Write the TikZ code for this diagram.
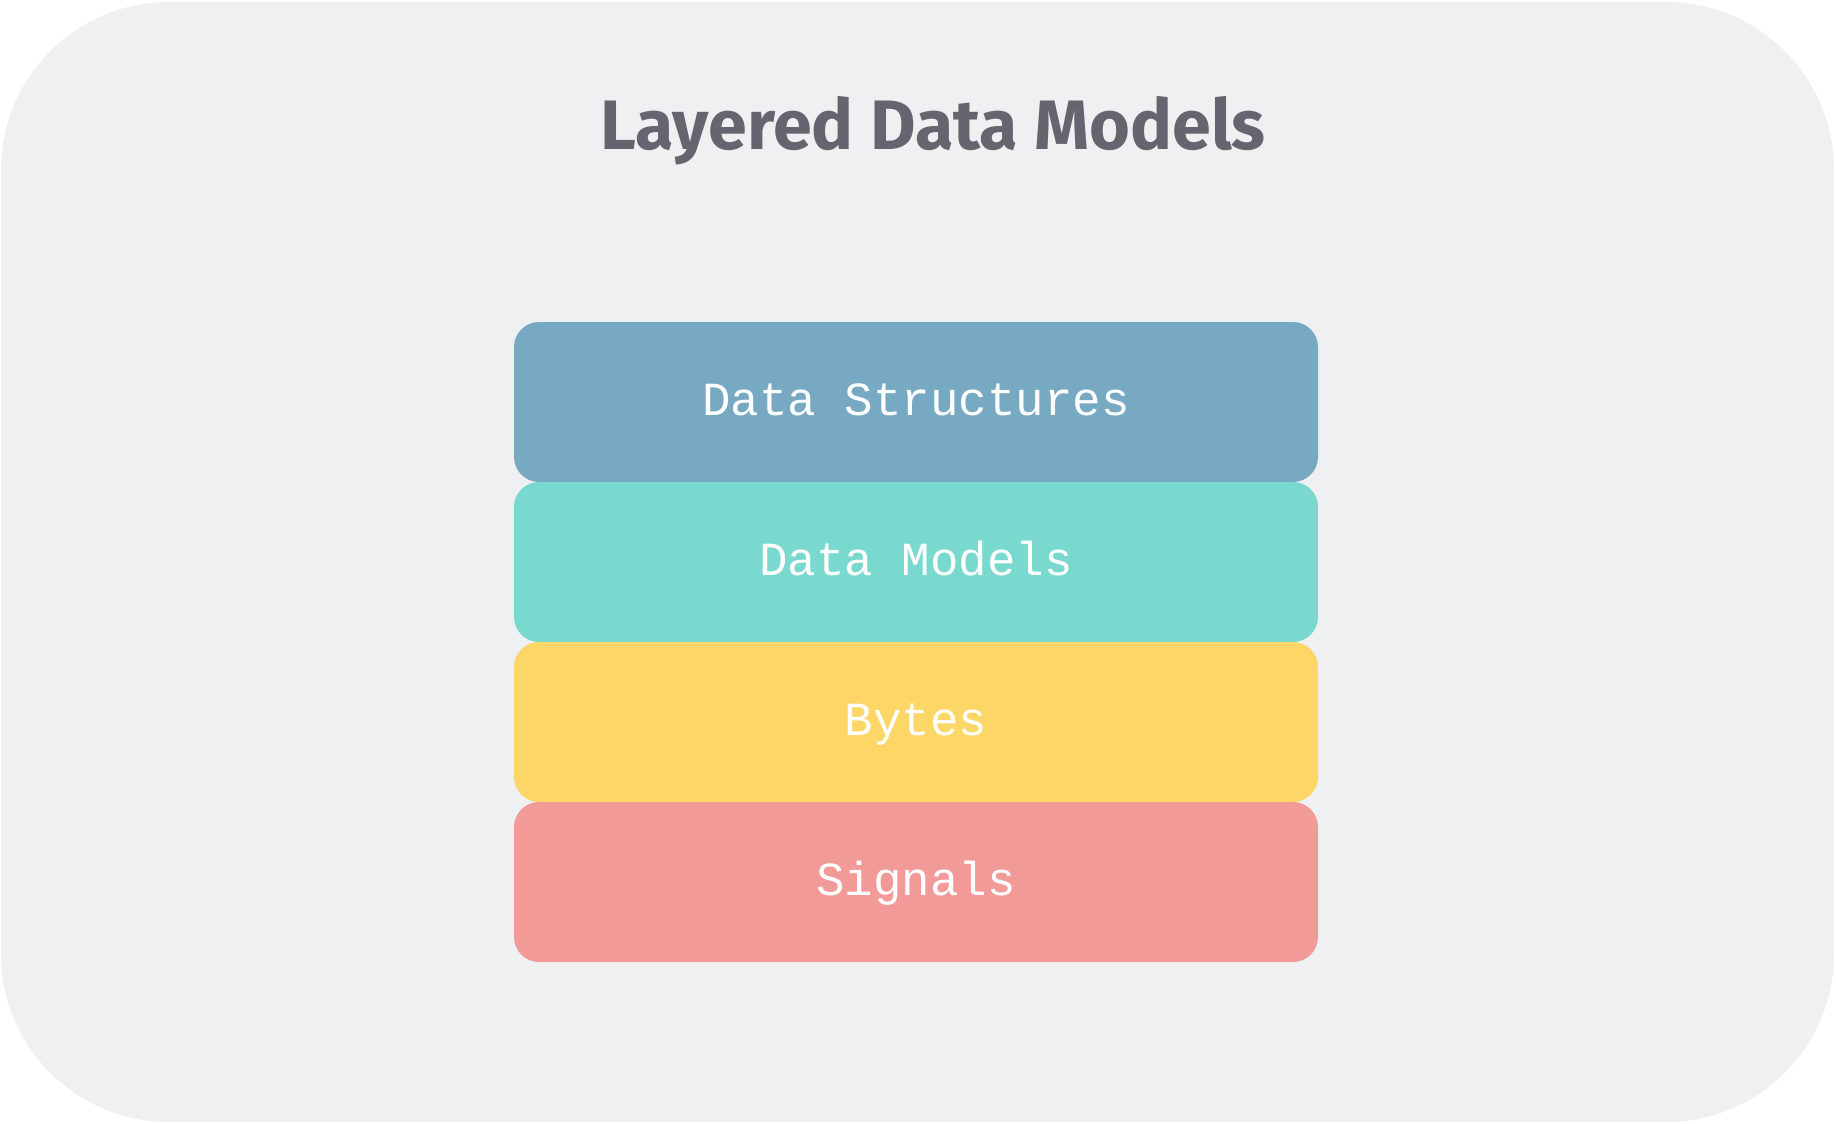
\documentclass[tikz,border=0pt]{standalone}
\usepackage{fontspec}
\setmainfont{Fira Sans}
\setmonofont{Liberation Mono}
\definecolor{panelbg}{HTML}{EFF0F2}
\definecolor{titlegray}{HTML}{66656F}
\definecolor{structblue}{HTML}{78A9C2}
\definecolor{modelteal}{HTML}{7AD9CF}
\definecolor{byteyellow}{HTML}{FCD667}
\definecolor{signalred}{HTML}{F29A98}
\begin{document}
\begin{tikzpicture}[x=1pt,y=-1pt,line join=round,line cap=round,
		layer/.style={rectangle,rounded corners=25pt,minimum width=804pt,minimum height=160pt,inner sep=0pt,text height=38pt,text depth=12pt,text=white,font=\fontsize{47.5}{50}\selectfont\ttfamily}]
			\useasboundingbox (0,0) rectangle (1836,1124);
			\fill[panelbg,rounded corners=168pt] (1,2) rectangle (1834,1122);
			\node[text=titlegray,font=\fontsize{70}{77}\selectfont\bfseries,anchor=base] (title) at (933,149) {Layered Data Models};
			\node[layer,fill=structblue] (struct) at (916,402) {Data Structures};
			\node[layer,fill=modelteal] (model) at (916,562) {Data Models};
			\node[layer,fill=byteyellow] (byte) at (916,722) {Bytes};
			\node[layer,fill=signalred] (signal) at (916,882) {Signals};
	\end{tikzpicture}
\end{document}
